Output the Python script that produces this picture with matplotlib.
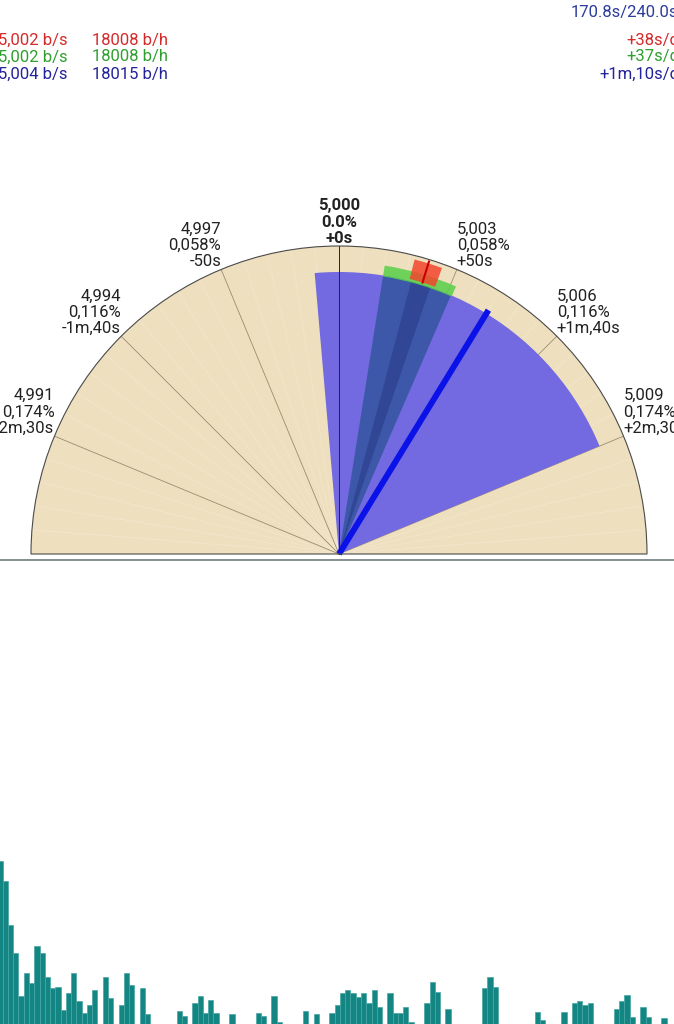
import matplotlib.pyplot as plt
from matplotlib.patches import Wedge
import numpy as np

plt.rcParams['font.family'] = ['Roboto', 'DejaVu Sans']

## Data ##

progress_label = '170.8s/240.0s'
rate_labels = ['5,002 b/s', '5,002 b/s', '5,004 b/s']
bph_labels = ['18008 b/h', '18008 b/h', '18015 b/h']
dev_labels = ['+38s/d', '+37s/d', '+1m,10s/d']
series_colors = ['#d42a2a', '#2f9f2f', '#23239a']

# gauge ticks, in s/d
tick_values = [-150, -100, -50, 0, 50, 100, 150]
tick_freqs = ['4,991', '4,994', '4,997', '5,000', '5,003', '5,006', '5,009']
tick_pcts = ['0,174%', '0,116%', '0,058%', '0.0%', '0,058%', '0,116%', '0,174%']
tick_devs = ['-2m,30s', '-1m,40s', '-50s', '+0s', '+50s', '+1m,40s', '+2m,30s']

# spreads / rates, in s/d
spread_all = (-11, 150)
spread_mid = (20, 52)
spread_core = (33, 42)
green_band = (20, 52.5)
red_band = (32, 44)
red_rate = 38
blue_rate = 70

hist_counts = [163, 143, 99, 71, 28, 51, 41, 78, 71, 47, 36, 37, 14, 31, 51, 23,
               11, 19, 34, 0, 47, 26, 0, 19, 51, 39, 0, 36, 10, 0, 0, 0,
               0, 0, 13, 8, 0, 21, 28, 11, 24, 11, 0, 0, 10, 0, 0, 0,
               0, 11, 8, 0, 28, 2, 0, 0, 0, 0, 13, 0, 10, 0, 0, 11,
               19, 31, 34, 31, 27, 31, 21, 34, 17, 0, 31, 11, 11, 17, 2, 0,
               0, 21, 42, 32, 0, 15, 0, 0, 0, 0, 0, 0, 36, 47, 37, 0,
               0, 0, 0, 0, 0, 0, 12, 4, 0, 0, 0, 12, 0, 21, 23, 19,
               21, 0, 0, 0, 0, 15, 23, 29, 7, 0, 17, 7, 0, 0, 6, 0]

## Layout ##

W, H = 674, 1024
CX, CY, R = 339, H - 554, 308
DEG_PER_SD = 22.5 / 50
FS = 12


def theta(v):
    return 90 - v * DEG_PER_SD


def band(ax, rng, r, width=None, zorder=2, **kw):
    ax.add_patch(Wedge((CX, CY), r, theta(rng[1]), theta(rng[0]), width=width,
                       zorder=zorder, **kw))


def ray(ax, v, r0, r1, **kw):
    t = np.radians(theta(v))
    ax.plot([CX + r0 * np.cos(t), CX + r1 * np.cos(t)],
            [CY + r0 * np.sin(t), CY + r1 * np.sin(t)], **kw)


fig = plt.figure(figsize=(W / 100, H / 100), dpi=100)
ax = fig.add_axes([0, 0, 1, 1])
ax.set_xlim(0, W)
ax.set_ylim(0, H)
ax.axis('off')

# header texts
ax.text(678, H - 12, progress_label, ha='right', va='center', fontsize=FS, color='#2c3c9c')
for i in range(3):
    y = H - (40 + 17 * i)
    c = series_colors[i]
    ax.text(68, y, rate_labels[i], ha='right', va='center', fontsize=FS, color=c)
    ax.text(92, y, bph_labels[i], ha='left', va='center', fontsize=FS, color=c)
    ax.text(679, y, dev_labels[i], ha='right', va='center', fontsize=FS, color=c)

# gauge background
ax.add_patch(Wedge((CX, CY), R, 0, 180, facecolor='#eedfbf', edgecolor='none', zorder=0))
for v in np.arange(-190, 200, 10):
    if v % 50:
        ray(ax, v, 0, R, color='#f3e7ce', lw=0.5, zorder=0.5)
for v in tick_values:
    if v:
        ray(ax, v, 0, R, color='#9a8c70', lw=0.6, zorder=0.6)

band(ax, spread_all, 282, facecolor='#7369e0')
band(ax, spread_mid, 282, facecolor='#3d58a8')
band(ax, spread_core, 282, facecolor='#2e4290', alpha=0.8)
band(ax, green_band, 292, width=11, facecolor='#58cf48', alpha=0.85)
band(ax, red_band, 304, width=20, facecolor='#f2452c', alpha=0.85)
ray(ax, red_rate, 284, 306, color='#c80000', lw=1.5, zorder=3)
ray(ax, blue_rate, 0, 286, color='#0b12e8', lw=4.3, solid_capstyle='butt', zorder=3)
ray(ax, 0, 0, R, color='#1e1e50', lw=0.7, zorder=3)

# outline
ax.add_patch(Wedge((CX, CY), R, 0, 180, facecolor='none', edgecolor='#4a4a4a', lw=0.8, zorder=3))
ax.axhline(H - 560, color='#7d8787', lw=1.3)

# tick labels
for v, f, p, d in zip(tick_values, tick_freqs, tick_pcts, tick_devs):
    t = np.radians(theta(v))
    x, y = CX + R * np.cos(t), CY + R * np.sin(t)
    ha = 'center' if v == 0 else ('right' if v < 0 else 'left')
    ax.text(x, y, f + '\n' + p + '\n' + d, ha=ha, va='bottom', fontsize=FS,
            linespacing=1.12, color='#222222',
            fontweight='bold' if v == 0 else 'normal',
            multialignment=ha)

# histogram
hx = fig.add_axes([0, 0, 1, 200 / H])
hx.bar(np.arange(len(hist_counts)), hist_counts, width=1.0,
       color='#138683', edgecolor='#47a8a4', linewidth=0.5)
hx.set_xlim(0, W / 5.27)
hx.set_ylim(0, 200)
hx.axis('off')

fig.savefig('out.png', dpi=100)
